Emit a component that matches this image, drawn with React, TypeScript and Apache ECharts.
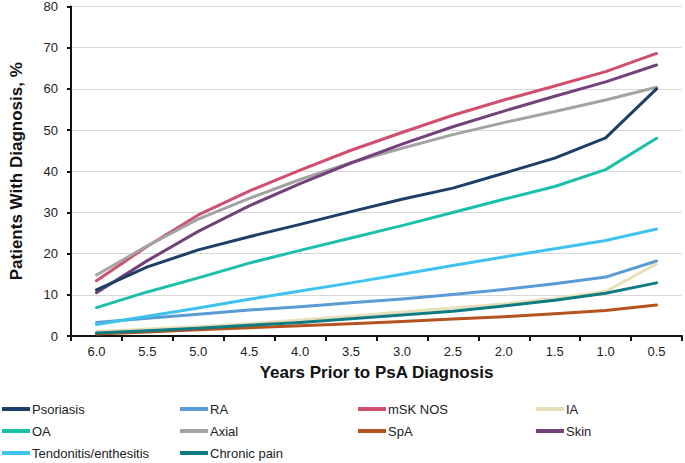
import React, { useEffect, useRef } from "react";
import * as echarts from "echarts";

const categories = ["6.0", "5.5", "5.0", "4.5", "4.0", "3.5", "3.0", "2.5", "2.0", "1.5", "1.0", "0.5"];

const psoriasis = [11.2, 16.8, 20.9, 24.1, 27.1, 30.2, 33.2, 35.9, 39.5, 43.2, 48.1, 60.0];
const ra = [3.3, 4.3, 5.3, 6.3, 7.1, 8.1, 9.0, 10.1, 11.3, 12.7, 14.3, 18.2];
const mskNos = [13.4, 21.8, 29.4, 35.2, 40.3, 45.1, 49.4, 53.6, 57.3, 60.7, 64.2, 68.6];
const ia = [1.1, 1.7, 2.3, 3.0, 3.9, 4.8, 5.8, 6.8, 7.8, 9.1, 10.8, 17.5];
const oa = [6.9, 10.7, 14.1, 17.7, 20.8, 23.8, 26.8, 30.0, 33.2, 36.3, 40.4, 48.0];
const axial = [14.8, 21.9, 28.4, 33.4, 38.0, 42.1, 45.6, 48.9, 51.8, 54.5, 57.3, 60.4];
const spa = [0.5, 1.0, 1.5, 2.0, 2.5, 3.0, 3.5, 4.1, 4.7, 5.4, 6.2, 7.5];
const skin = [10.5, 18.3, 25.4, 31.6, 37.0, 42.0, 46.6, 50.8, 54.6, 58.2, 61.7, 65.8];
const tendonitis = [2.8, 4.8, 6.8, 8.9, 10.9, 12.9, 15.0, 17.1, 19.2, 21.2, 23.2, 26.0];
const chronicPain = [0.7, 1.3, 1.9, 2.6, 3.3, 4.2, 5.1, 6.0, 7.3, 8.7, 10.4, 12.9];

const yTicks = { min: 0, max: 80, interval: 10 };

const seriesDefs = [
  { name: "Psoriasis", data: psoriasis, color: "#1b3f66", z: 3 },
  { name: "RA", data: ra, color: "#5b9bd5", z: 2 },
  { name: "mSK NOS", data: mskNos, color: "#d04f6e", z: 2 },
  { name: "IA", data: ia, color: "#e6dfb8", z: 2 },
  { name: "OA", data: oa, color: "#1cbfa9", z: 2 },
  { name: "Axial", data: axial, color: "#a3a3a3", z: 2 },
  { name: "SpA", data: spa, color: "#b5531f", z: 2 },
  { name: "Skin", data: skin, color: "#74417c", z: 2 },
  { name: "Tendonitis/enthesitis", data: tendonitis, color: "#3ec3ef", z: 2 },
  { name: "Chronic pain", data: chronicPain, color: "#0f7b82", z: 2 },
];

const legendColumns = [
  ["Psoriasis", "OA", "Tendonitis/enthesitis"],
  ["RA", "Axial", "Chronic pain"],
  ["mSK NOS", "SpA"],
  ["IA", "Skin"],
];
const legendLefts = [2, 180, 358, 536];

const FONT = "'Liberation Sans', Arial, sans-serif";

export default function App() {
  const ref = useRef<HTMLDivElement>(null);
  useEffect(() => {
    document.body.style.margin = "0";
    if (!ref.current) return;
    const chart = echarts.init(ref.current, undefined, { renderer: "svg" });
    chart.setOption({
      animation: false,
      backgroundColor: "#ffffff",
      textStyle: { fontFamily: FONT },
      grid: { left: 62, right: 3, top: 6, bottom: 127, containLabel: false },
      legend: legendColumns.map((col, i) => ({
        data: col,
        orient: "vertical",
        left: legendLefts[i],
        top: 402,
        itemWidth: 28,
        itemHeight: 4,
        itemGap: 8,
        icon: "rect",
        selectedMode: false,
        padding: 0,
        textStyle: { fontFamily: FONT, fontSize: 13, color: "#222", lineHeight: 14, padding: [0, 0, 0, -3] },
      })),
      xAxis: {
        type: "category",
        data: categories,
        boundaryGap: true,
        name: "Years Prior to PsA Diagnosis",
        nameLocation: "middle",
        nameGap: 28,
        nameTextStyle: { fontFamily: FONT, fontSize: 17, fontWeight: "bold", color: "#111" },
        axisLine: { lineStyle: { color: "#111", width: 2 } },
        axisTick: { show: true, interval: 0, length: 5, lineStyle: { color: "#111", width: 2 } },
        axisLabel: { fontFamily: FONT, fontSize: 13, color: "#222", margin: 9, interval: 0 },
        splitLine: { show: false },
      },
      yAxis: {
        type: "value",
        min: yTicks.min,
        max: yTicks.max,
        interval: yTicks.interval,
        name: "Patients With Diagnosis, %",
        nameLocation: "middle",
        nameGap: 46,
        nameTextStyle: { fontFamily: FONT, fontSize: 17, fontWeight: "bold", color: "#111" },
        axisLine: { show: true, lineStyle: { color: "#111", width: 2 } },
        axisTick: { show: true, length: 4, lineStyle: { color: "#111", width: 2 } },
        axisLabel: { fontFamily: FONT, fontSize: 13, color: "#222", margin: 13 },
        splitLine: { show: true, lineStyle: { color: "#d9d9d9", width: 1 } },
      },
      series: seriesDefs.map((s) => ({
        name: s.name,
        type: "line",
        data: s.data,
        symbol: "none",
        showSymbol: false,
        z: s.z,
        color: s.color,
        lineStyle: { color: s.color, width: 3, cap: "round", join: "round" },
        itemStyle: { color: s.color },
      })),
    });
    return () => chart.dispose();
  }, []);
  return <div ref={ref} style={{ width: 685, height: 463 }} />;
}
